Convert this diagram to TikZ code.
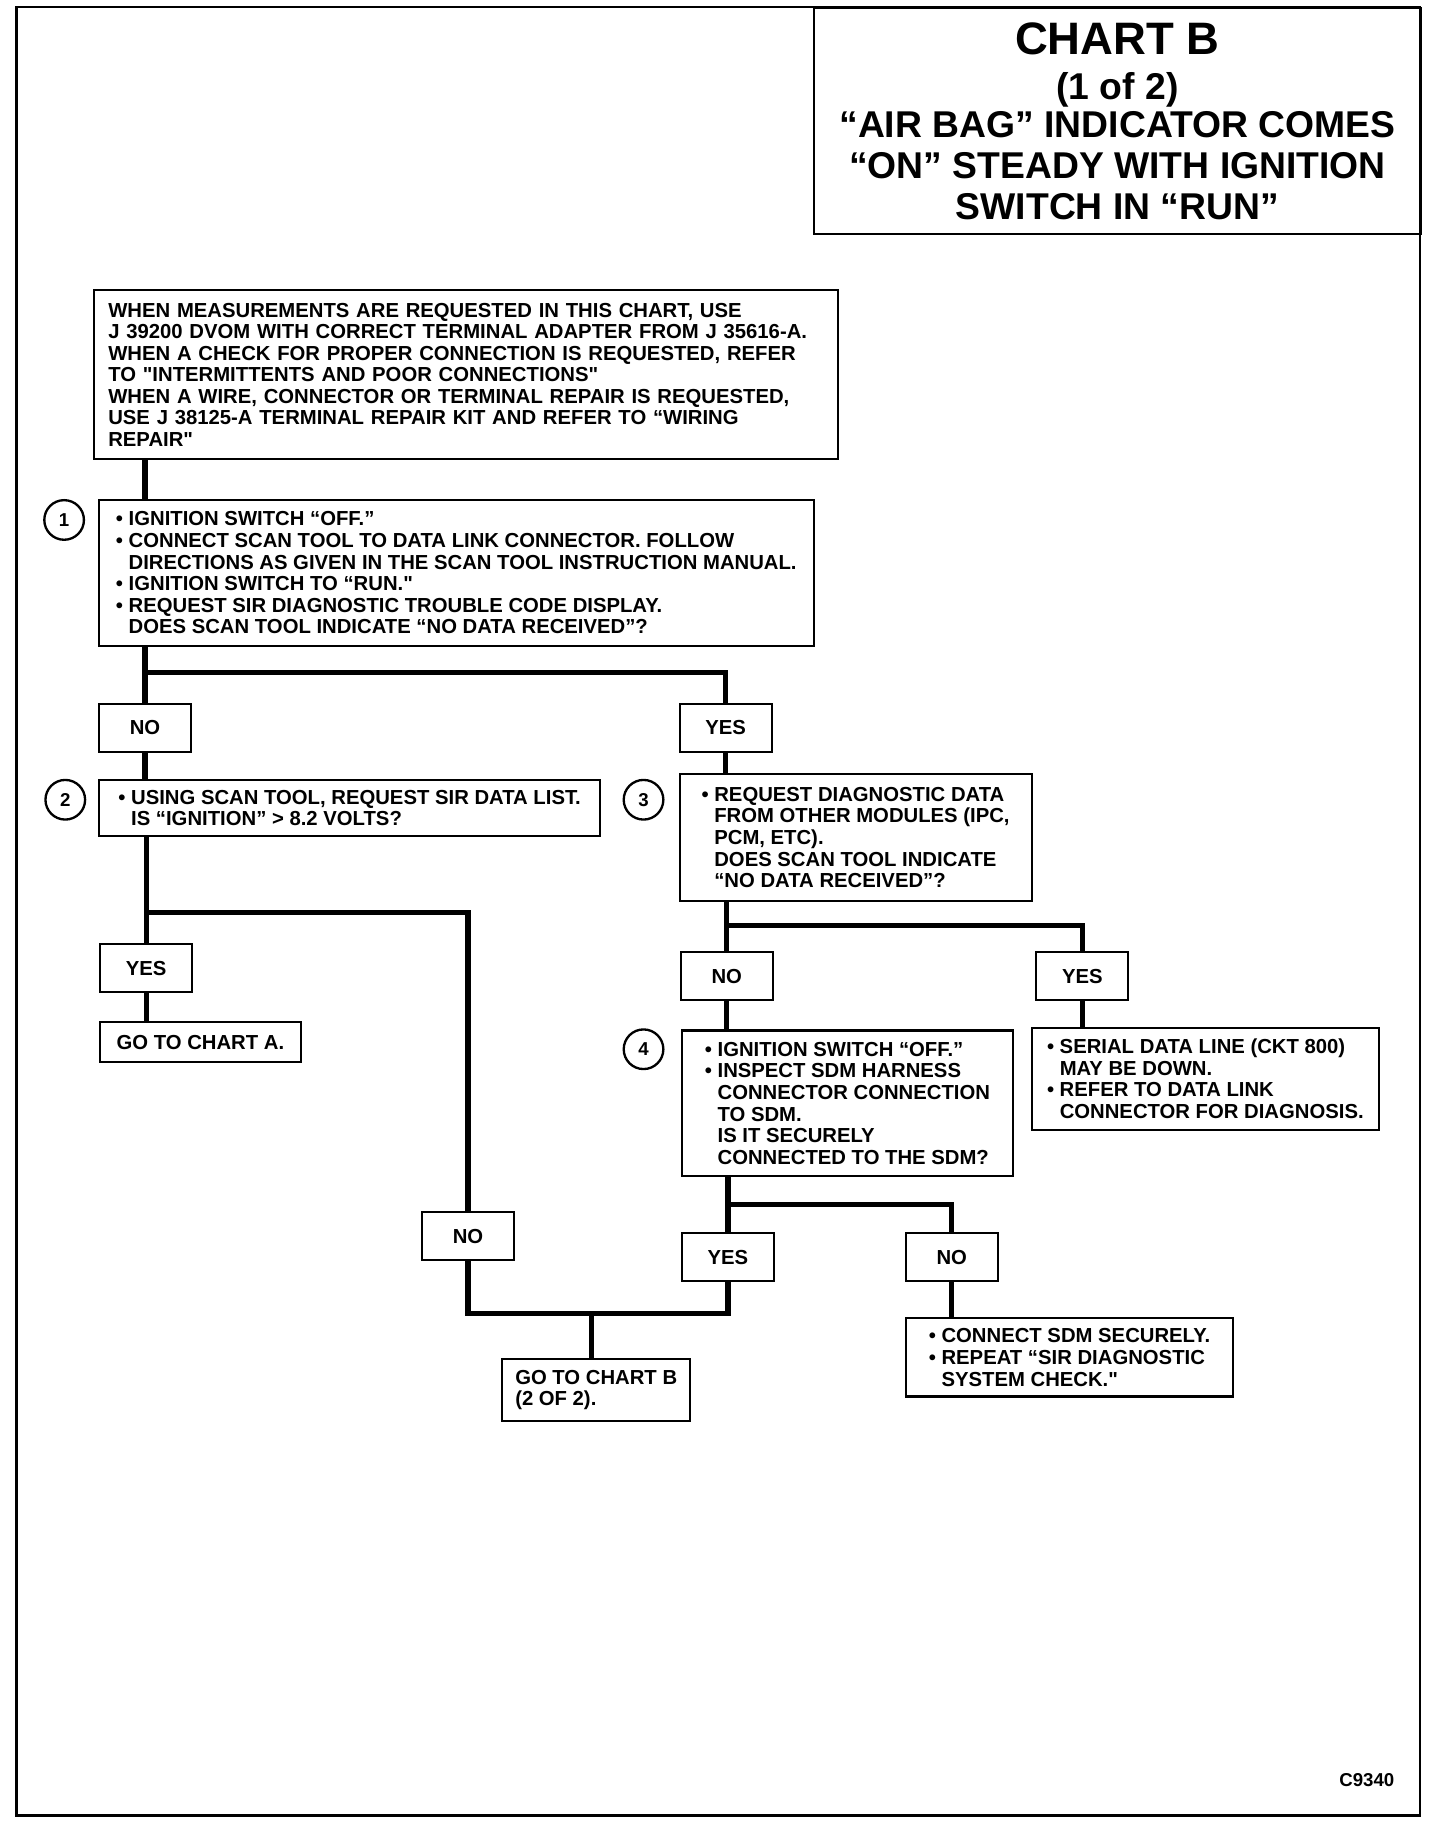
\documentclass[tikz,border=0pt]{standalone}
\usepackage{fontspec}
\setmainfont{Liberation Sans}
\newcommand{\bl}{\textbullet\ }
\newcommand{\ind}{\hphantom{\textbullet\ }}

\begin{document}
\begin{tikzpicture}[x=0.5pt,y=-0.5pt,font=\bfseries\fontsize{8.7}{9.25}\selectfont,
  box/.style={draw,line width=0.9pt,anchor=north west,align=left,inner xsep=5pt,inner ysep=0pt},
  ans/.style={draw,line width=0.9pt,anchor=north west,minimum width=39.5pt,minimum height=20.5pt,inner sep=0pt},
  num/.style={circle,draw,line width=1pt,minimum size=17pt,inner sep=0pt,font=\bfseries\fontsize{8}{9}\selectfont},
  link/.style={line width=2.2pt}]
  \useasboundingbox (0,0) rectangle (1235,1568);
  \draw[line width=1.2pt] (14,6) rectangle (1218,1557);
  \node[draw,line width=1pt,anchor=north west,minimum width=260.5pt,minimum height=97pt,align=center,
    font=\bfseries\fontsize{16}{17.5}\selectfont] (title) at (697,6)
    {{\fontsize{19.5}{19}\selectfont CHART B}\\[1.5pt] (1 of 2)\\[-1pt] “AIR BAG” INDICATOR COMES\\ “ON” STEADY WITH IGNITION\\ SWITCH IN “RUN”};

  \node[box,inner xsep=6pt,text width=307pt,minimum height=72.5pt] (intro) at (80,248)
    {WHEN MEASUREMENTS ARE REQUESTED IN THIS CHART, USE\\
     J 39200 DVOM WITH CORRECT TERMINAL ADAPTER FROM J 35616-A.\\
     WHEN A CHECK FOR PROPER CONNECTION IS REQUESTED, REFER\\
     TO \textquotedbl INTERMITTENTS AND POOR CONNECTIONS\textquotedbl\\
     WHEN A WIRE, CONNECTOR OR TERMINAL REPAIR IS REQUESTED,\\
     USE J 38125-A TERMINAL REPAIR KIT AND REFER TO “WIRING\\
     REPAIR\textquotedbl};
  \node[box,minimum width=306.5pt,minimum height=62.5pt] (box1) at (84,428)
    {\bl IGNITION SWITCH “OFF.”\\
     \bl CONNECT SCAN TOOL TO DATA LINK CONNECTOR. FOLLOW\\
     \ind DIRECTIONS AS GIVEN IN THE SCAN TOOL INSTRUCTION MANUAL.\\
     \bl IGNITION SWITCH TO “RUN.\textquotedbl\\
     \bl REQUEST SIR DIAGNOSTIC TROUBLE CODE DISPLAY.\\
     \ind DOES SCAN TOOL INDICATE “NO DATA RECEIVED”?};
  \node[num] (n1) at (55,446) {1};

  \node[ans] (no1) at (84,603) {NO};
  \node[ans] (yes1) at (582,603) {YES};

  \node[box,minimum width=215pt,minimum height=24pt] (box2) at (84,668)
    {\bl USING SCAN TOOL, REQUEST SIR DATA LIST.\\
     \ind IS “IGNITION” > 8.2 VOLTS?};
  \node[num] (n2) at (56,686) {2};
  \node[box,minimum width=151pt,minimum height=54.5pt] (box3) at (582,663)
    {\bl REQUEST DIAGNOSTIC DATA\\
     \ind FROM OTHER MODULES (IPC,\\
     \ind PCM, ETC).\\
     \ind DOES SCAN TOOL INDICATE\\
     \ind “NO DATA RECEIVED”?};
  \node[num] (n3) at (552,686) {3};

  \node[ans] (yes2) at (85,809) {YES};
  \node[box,minimum width=86pt,minimum height=17pt] (charta) at (85,876) {GO TO CHART A.};
  \node[ans] (no3) at (583,816) {NO};
  \node[ans] (yes3) at (888,816) {YES};

  \node[box,minimum width=142pt,minimum height=62.5pt] (box4) at (584,883)
    {\bl IGNITION SWITCH “OFF.”\\
     \bl INSPECT SDM HARNESS\\
     \ind CONNECTOR CONNECTION\\
     \ind TO SDM.\\
     \ind IS IT SECURELY\\
     \ind CONNECTED TO THE SDM?};
  \node[num] (n4) at (552,900) {4};
  \node[box,minimum width=149pt,minimum height=43.5pt] (serial) at (884,881)
    {\bl SERIAL DATA LINE (CKT 800)\\
     \ind MAY BE DOWN.\\
     \bl REFER TO DATA LINK\\
     \ind CONNECTOR FOR DIAGNOSIS.};

  \node[ans] (no4) at (361,1039) {NO};
  \node[ans] (yes4) at (584,1057) {YES};
  \node[ans] (no5) at (776,1057) {NO};

  \node[box,minimum width=80.5pt,minimum height=26.5pt] (chartb) at (430,1165)
    {GO TO CHART B\\ (2 OF 2).};
  \node[box,minimum width=140.5pt,minimum height=33.5pt] (fix) at (776,1130)
    {\bl CONNECT SDM SECURELY.\\
     \bl REPEAT “SIR DIAGNOSTIC\\
     \ind SYSTEM CHECK.\textquotedbl};

  \node[anchor=east,font=\bfseries\fontsize{8}{9}\selectfont] (code) at (1203,1527) {C9340};

  \coordinate (j1) at (123.5,577);
  \coordinate (j2) at (124.5,783);
  \coordinate (j3) at (622.5,794);
  \coordinate (j4) at (623.5,1033);
  \coordinate (j6) at (507,1127);

  \draw[link] (intro.south -| no1) -- (box1.north -| no1);
  \draw[link] (box1.south -| no1) -- (no1.north);
  \draw[link] (j1) -| (yes1.north);
  \draw[link] (no1.south) -- (box2.north -| no1);
  \draw[link] (yes1.south) -- (box3.north -| yes1);
  \draw[link] (box2.south -| yes2) -- (yes2.north);
  \draw[link] (j2) -| (no4.north);
  \draw[link] (yes2.south) -- (charta.north -| yes2);
  \draw[link] (box3.south -| no3) -- (no3.north);
  \draw[link] (j3) -| (yes3.north);
  \draw[link] (no3.south) -- (box4.north -| no3);
  \draw[link] (yes3.south) -- (serial.north -| yes3);
  \draw[link] (box4.south -| yes4) -- (yes4.north);
  \draw[link] (j4) -| (no5.north);
  \draw[link] (no5.south) -- (fix.north -| no5);
  \draw[link] (no4.south) |- (j6) -| (yes4.south);
  \draw[link] (j6) -- (chartb.north -| j6);
\end{tikzpicture}
\end{document}
